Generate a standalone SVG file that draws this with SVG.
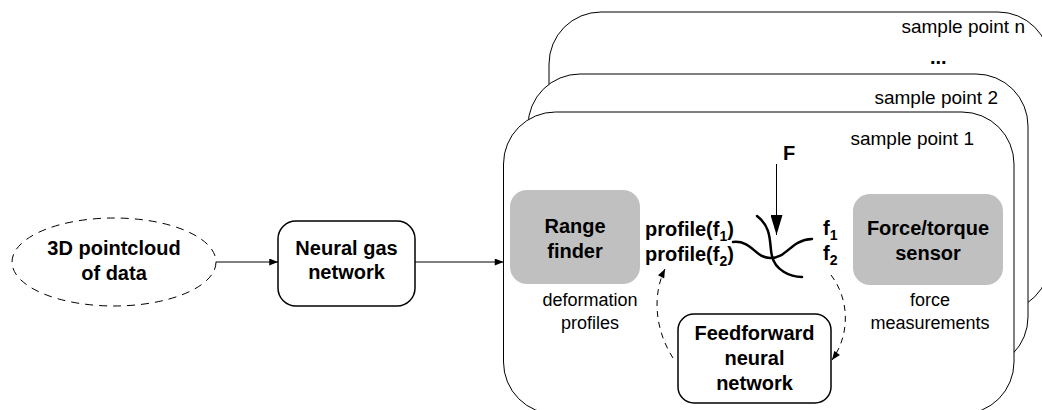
<svg xmlns="http://www.w3.org/2000/svg" width="1042" height="410" viewBox="0 0 1042 410">
<style>
.panel{fill:#fff;stroke:#000;stroke-width:1}
.box{fill:#fff;stroke:#000;stroke-width:1.5}
.grey{fill:#c0c0c0;stroke:none}
.b{font-family:"Liberation Sans",Arial,sans-serif;font-weight:bold;font-size:20px;fill:#000}
.r{font-family:"Liberation Sans",Arial,sans-serif;font-size:18px;fill:#000}
.s{font-size:19px}
.c{text-anchor:middle}
.e{text-anchor:end}
.sub{font-size:14px}
.line{fill:none;stroke:#000;stroke-width:1}
.dash{fill:none;stroke:#000;stroke-width:1;stroke-dasharray:6 5}
.curve{fill:none;stroke:#000;stroke-width:2.5;stroke-linecap:round}
</style>
<defs>
<marker id="arr" viewBox="0 0 10 8" refX="10" refY="4" markerWidth="10" markerHeight="7" markerUnits="userSpaceOnUse" orient="auto">
<path d="M0,0 L10,4 L0,8 z" fill="#000"/>
</marker>
<marker id="big" viewBox="0 0 20 12" refX="20" refY="6" markerWidth="20" markerHeight="12" markerUnits="userSpaceOnUse" orient="auto">
<path d="M0,0 L20,6 L0,12 z" fill="#000"/>
</marker>
</defs>

<g id="panel-n">
<rect class="panel" x="549" y="12" width="501" height="300" rx="52" ry="52"/>
<text class="r s e" x="1025" y="33">sample point n</text>
<text class="b" x="930" y="64">...</text>
</g>
<g id="panel-2">
<rect class="panel" x="528" y="74" width="500" height="295" rx="52" ry="52"/>
<text class="r s e" x="998" y="104">sample point 2</text>
</g>
<g id="panel-1">
<rect class="panel" x="503.5" y="112" width="510.5" height="302" rx="52" ry="52"/>
<text class="r s e" x="974" y="145">sample point 1</text>
</g>

<g id="pointcloud">
<ellipse cx="114" cy="262" rx="102" ry="44" fill="none" stroke="#000" stroke-width="1" stroke-dasharray="8 6"/>
<text class="b c" x="114" y="255">3D pointcloud</text>
<text class="b c" x="114" y="280">of data</text>
</g>

<g id="neural-gas">
<rect class="box" x="278" y="221" width="137" height="85" rx="18" ry="18"/>
<text class="b c" x="346.5" y="255">Neural gas</text>
<text class="b c" x="346.5" y="279">network</text>
</g>

<g id="range-finder">
<rect class="grey" x="510" y="190" width="130" height="94" rx="17" ry="17"/>
<text class="b c" x="575" y="233">Range</text>
<text class="b c" x="575" y="258">finder</text>
<text class="r c" x="590" y="306">deformation</text>
<text class="r c" x="590" y="329">profiles</text>
</g>

<g id="force-sensor">
<rect class="grey" x="853" y="194" width="150" height="91" rx="17" ry="17"/>
<text class="b c" x="928" y="235">Force/torque</text>
<text class="b c" x="928" y="260">sensor</text>
<text class="r c" x="930" y="306">force</text>
<text class="r c" x="930" y="329">measurements</text>
</g>

<g id="feedforward">
<rect class="box" x="678" y="314" width="153" height="89" rx="16" ry="16"/>
<text class="b c" x="754.5" y="340">Feedforward</text>
<text class="b c" x="754.5" y="365">neural</text>
<text class="b c" x="754.5" y="390">network</text>
</g>

<g id="profile-labels">
<text class="b" x="645" y="236">profile(f<tspan class="sub" dy="5">1</tspan><tspan dy="-5">)</tspan></text>
<text class="b" x="645" y="261">profile(f<tspan class="sub" dy="5">2</tspan><tspan dy="-5">)</tspan></text>
<text class="b" x="823" y="235">f<tspan class="sub" dy="5">1</tspan></text>
<text class="b" x="823" y="260">f<tspan class="sub" dy="5">2</tspan></text>
</g>

<g id="force-F">
<text class="b" x="783" y="160">F</text>
</g>

<g id="profile-curves">
<path class="curve" d="M733,242 C752,240 755,258 770,258 C788,258 790,240 812,239"/>
<path class="curve" d="M757,216 C773,228 769,245 772,256 C775,270 790,277 802,277"/>
</g>

<g id="connectors">
<line class="line" x1="216" y1="262" x2="278" y2="262" marker-end="url(#arr)"/>
<line class="line" x1="415" y1="262" x2="503.5" y2="262" marker-end="url(#arr)"/>
<line class="line" x1="776.5" y1="164" x2="776.5" y2="235" marker-end="url(#big)"/>
<path class="dash" d="M831,275 C850,300 850,335 832,360" marker-end="url(#arr)"/>
<path class="dash" d="M673,358 C655,330 652,295 665,269" marker-end="url(#arr)"/>
</g>
</svg>
